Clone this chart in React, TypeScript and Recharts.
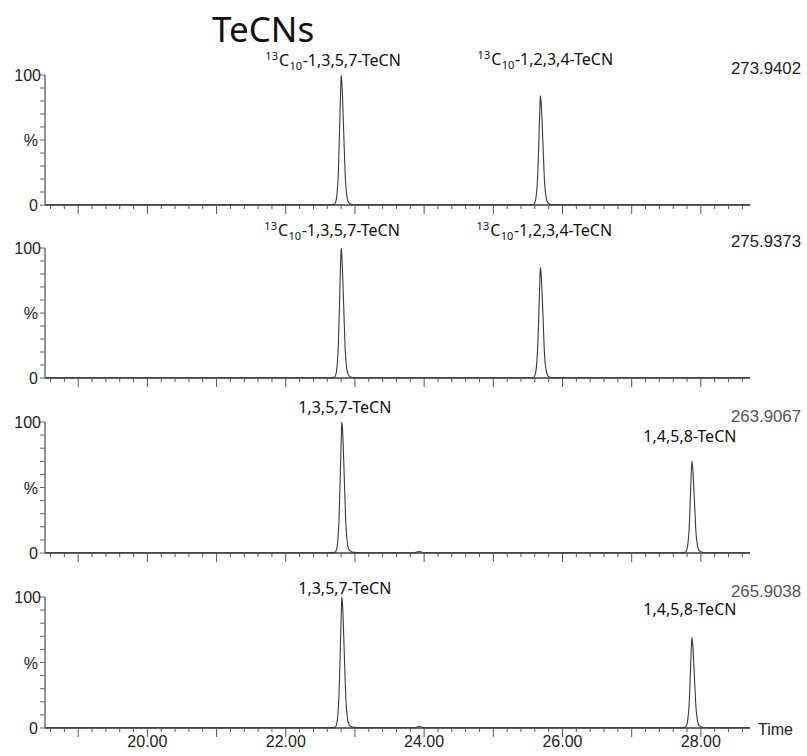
import React from 'react';
import { LineChart, Line, XAxis, YAxis, ReferenceDot } from 'recharts';

// ---------- data ----------
const title = 'TeCNs';
const xDomain: [number, number] = [18.52, 28.71];
const xTicks = [
  18.6, 18.8, 19.0, 19.2, 19.4, 19.6, 19.8, 20.0, 20.2, 20.4, 20.6, 20.8,
  21.0, 21.2, 21.4, 21.6, 21.8, 22.0, 22.2, 22.4, 22.6, 22.8, 23.0, 23.2,
  23.4, 23.6, 23.8, 24.0, 24.2, 24.4, 24.6, 24.8, 25.0, 25.2, 25.4, 25.6,
  25.8, 26.0, 26.2, 26.4, 26.6, 26.8, 27.0, 27.2, 27.4, 27.6, 27.8, 28.0,
  28.2, 28.4, 28.6,
];
const xLabelValues = [20, 22, 24, 26, 28];
const xLabelTexts = ['20.00', '22.00', '24.00', '26.00', '28.00'];
const yTicks = [0, 10, 20, 30, 40, 50, 60, 70, 80, 90, 100];
const yLabelValues = [0, 50, 100];
const yLabelTexts = ['0', '%', '100'];
const xAxisName = 'Time';
const massLabels = ['273.9402', '275.9373', '263.9067', '265.9038'];

const trace1: [number, number][] = [
  [18.52, 0.2], [22.6, 0.2], [22.7, 0.5], [22.72, 2], [22.74, 8], [22.76, 25],
  [22.78, 62], [22.795, 92], [22.8, 100], [22.81, 95], [22.82, 84], [22.84, 52],
  [22.86, 22], [22.88, 8], [22.9, 3], [22.93, 1], [22.97, 0.4], [23.1, 0.2],
  [25.5, 0.2], [25.58, 0.4], [25.6, 1.7], [25.62, 7], [25.64, 21], [25.66, 52],
  [25.675, 78], [25.68, 84], [25.69, 80], [25.7, 70], [25.72, 44], [25.74, 18],
  [25.76, 7], [25.78, 2.5], [25.81, 0.8], [25.85, 0.3], [26.0, 0.2], [28.71, 0.2],
];
const trace2: [number, number][] = [
  [18.52, 0.2], [22.6, 0.2], [22.7, 0.5], [22.72, 2], [22.74, 8], [22.76, 26],
  [22.78, 63], [22.795, 93], [22.8, 100], [22.81, 95], [22.82, 83], [22.84, 51],
  [22.86, 21], [22.88, 8], [22.9, 3], [22.93, 1], [22.97, 0.4], [23.1, 0.2],
  [25.5, 0.2], [25.58, 0.4], [25.6, 1.8], [25.62, 7], [25.64, 22], [25.66, 53],
  [25.675, 79], [25.68, 85], [25.69, 81], [25.7, 71], [25.72, 45], [25.74, 18],
  [25.76, 7], [25.78, 2.5], [25.81, 0.8], [25.85, 0.3], [26.0, 0.2], [28.71, 0.2],
];
const trace3: [number, number][] = [
  [18.52, 0.2], [22.6, 0.2], [22.71, 0.5], [22.73, 2], [22.75, 8], [22.77, 26],
  [22.79, 63], [22.805, 93], [22.81, 100], [22.82, 95], [22.83, 83], [22.85, 50],
  [22.87, 21], [22.89, 8], [22.91, 3], [22.94, 1.2], [22.98, 0.5], [23.1, 0.2],
  [23.85, 0.2], [23.9, 0.8], [23.93, 1.2], [23.96, 0.8], [24.0, 0.2],
  [27.7, 0.2], [27.77, 0.5], [27.79, 1.5], [27.81, 6], [27.83, 18], [27.85, 45],
  [27.865, 66], [27.87, 70], [27.88, 66], [27.89, 58], [27.91, 36], [27.93, 15],
  [27.95, 6], [27.97, 2.2], [28.0, 1], [28.04, 0.4], [28.15, 0.2], [28.71, 0.2],
];
const trace4: [number, number][] = [
  [18.52, 0.2], [22.6, 0.2], [22.71, 0.5], [22.73, 2], [22.75, 8], [22.77, 26],
  [22.79, 63], [22.805, 93], [22.81, 100], [22.82, 95], [22.83, 83], [22.85, 50],
  [22.87, 21], [22.89, 8], [22.91, 3], [22.94, 1.2], [22.98, 0.5], [23.1, 0.2],
  [23.85, 0.2], [23.9, 0.8], [23.93, 1.3], [23.96, 0.8], [24.0, 0.2],
  [27.7, 0.2], [27.77, 0.5], [27.79, 1.5], [27.81, 6], [27.83, 18], [27.85, 44],
  [27.865, 65], [27.87, 69], [27.88, 65], [27.89, 57], [27.91, 35], [27.93, 15],
  [27.95, 6], [27.97, 2.2], [28.0, 1], [28.04, 0.4], [28.15, 0.2], [28.71, 0.2],
];
const traces = [trace1, trace2, trace3, trace4];

// peak annotations: retention time + name
const peakTimes = [
  [22.8, 25.68],
  [22.8, 25.68],
  [22.81, 27.87],
  [22.81, 27.87],
];
const peakNames = [
  ['13C10-1,3,5,7-TeCN', '13C10-1,2,3,4-TeCN'],
  ['13C10-1,3,5,7-TeCN', '13C10-1,2,3,4-TeCN'],
  ['1,3,5,7-TeCN', '1,4,5,8-TeCN'],
  ['1,3,5,7-TeCN', '1,4,5,8-TeCN'],
];

// ---------- layout (positions / styles only) ----------
const W = 807;
const PLOT_LEFT = 45;
const PLOT_RIGHT = 750;
const panels = [
  { top: 0, mt: 75, plotH: 130, xh: 9 },
  { top: 214, mt: 34, plotH: 130, xh: 10 },
  { top: 388, mt: 34, plotH: 131, xh: 10 },
  { top: 563, mt: 34, plotH: 131, xh: 28 },
];
const labelBaseline = [
  [-9, -10],
  [-12, -12],
  [-9, 20],
  [-3, 18],
];
const labelDx = [
  [-8, 5],
  [-9, 4],
  [3, -2],
  [3, -2],
];
const massColors = ['#222', '#222', '#555', '#555'];
const AXIS_FONT = '"Liberation Sans", Arial, sans-serif';
const LABEL_FONT = '"Noto Sans", sans-serif';

const XTick = (props: any) => {
  const { x, y, payload, showLabel } = props;
  const v = payload.value as number;
  const major = Math.abs(v - Math.round(v)) < 1e-6;
  const len = major ? 9 : 4;
  const li = xLabelValues.findIndex((lv) => Math.abs(lv - v) < 1e-6);
  return (
    <g>
      <line x1={x} x2={x} y1={y} y2={y + len} stroke="#555" strokeWidth={1} />
      {showLabel && li >= 0 && (
        <text x={x} y={y + 19} textAnchor="middle" fontSize={16} fontFamily={AXIS_FONT} fill="#222">
          {xLabelTexts[li]}
        </text>
      )}
    </g>
  );
};

const YTick = (props: any) => {
  const { x, y, payload } = props;
  const v = payload.value as number;
  const li = yLabelValues.indexOf(v);
  return (
    <g>
      <line x1={x - 5} x2={x} y1={y} y2={y} stroke="#666" strokeWidth={1} />
      {li >= 0 && (
        <text x={x - (v === 100 ? 4 : 7)} y={y + 6} textAnchor="end" fontSize={16} fontFamily={AXIS_FONT} fill="#222">
          {yLabelTexts[li]}
        </text>
      )}
    </g>
  );
};

const renderName = (name: string, x: number, y: number) => {
  if (name.startsWith('13C10')) {
    const rest = name.slice(5);
    return (
      <text x={x} y={y} textAnchor="middle" fontFamily={LABEL_FONT} fill="#111" fontSize={16}>
        <tspan fontSize={11} dy={-6}>13</tspan>
        <tspan fontSize={16} dy={6} dx={1}>C</tspan>
        <tspan fontSize={11} dy={4} dx={0.5}>10</tspan>
        <tspan fontSize={16} dy={-4} dx={0.5}>{rest}</tspan>
      </text>
    );
  }
  return (
    <text x={x} y={y} textAnchor="middle" fontFamily={LABEL_FONT} fill="#111" fontSize={16}>
      {name}
    </text>
  );
};

const Panel = ({ i }: { i: number }) => {
  const p = panels[i];
  const data = traces[i].map(([t, v]) => ({ t, v }));
  const height = p.mt + p.plotH + p.xh;
  const isLast = i === panels.length - 1;
  return (
    <div style={{ position: 'absolute', left: 0, top: p.top, width: W, height }}>
      <LineChart
        width={W}
        height={height}
        data={data}
        margin={{ top: p.mt, right: W - PLOT_RIGHT, bottom: 0, left: 0 }}
      >
        <XAxis
          dataKey="t"
          type="number"
          domain={xDomain}
          ticks={xTicks}
          interval={0}
          height={p.xh}
          tickSize={0}
          tickMargin={0}
          tickLine={false}
          axisLine={{ stroke: '#3c3c3c', strokeWidth: 1.6 }}
          tick={(tp: any) => <XTick {...tp} showLabel={isLast} />}
        />
        <YAxis
          type="number"
          domain={[0, 100]}
          ticks={yTicks}
          interval={0}
          width={PLOT_LEFT}
          tickSize={0}
          tickMargin={0}
          tickLine={false}
          axisLine={{ stroke: '#666', strokeWidth: 1.4 }}
          tick={(tp: any) => <YTick {...tp} />}
        />
        <Line
          type="monotone"
          dataKey="v"
          stroke="#3a3a3a"
          strokeWidth={1.1}
          dot={false}
          isAnimationActive={false}
        />
        {peakTimes[i].map((t, k) => (
          <ReferenceDot
            key={k}
            x={t}
            y={100}
            r={1}
            fill="none"
            stroke="none"
            ifOverflow="visible"
            label={(lp: any) => {
              const vb = lp.viewBox || {};
              const cx = (vb.x ?? 0) + (vb.width ?? 0) / 2;
              const topY = (vb.y ?? 0) + (vb.height ?? 0) / 2;
              return renderName(peakNames[i][k], cx + labelDx[i][k], topY + labelBaseline[i][k]);
            }}
          />
        ))}
      </LineChart>
    </div>
  );
};

export default function App() {
  return (
    <div style={{ position: 'absolute', left: 0, top: 0, width: W, height: 756, background: '#fff' }}>
      {panels.map((_, i) => (
        <Panel key={i} i={i} />
      ))}
      <svg
        width={W}
        height={756}
        style={{ position: 'absolute', left: 0, top: 0, pointerEvents: 'none' }}
      >
        <text x={212} y={42} fontSize={35} fontFamily={LABEL_FONT} fill="#111">
          {title}
        </text>
        {massLabels.map((m, i) => (
          <text
            key={m}
            x={801}
            y={panels[i].top + panels[i].mt - 1 + (i >= 2 ? 1 : 0)}
            textAnchor="end"
            fontSize={16.8}
            fontFamily={AXIS_FONT}
            fill={massColors[i]}
          >
            {m}
          </text>
        ))}
        <text
          x={758}
          y={panels[3].top + panels[3].mt + panels[3].plotH + 7}
          fontSize={16}
          fontFamily={AXIS_FONT}
          fill="#222"
        >
          {xAxisName}
        </text>
      </svg>
    </div>
  );
}
